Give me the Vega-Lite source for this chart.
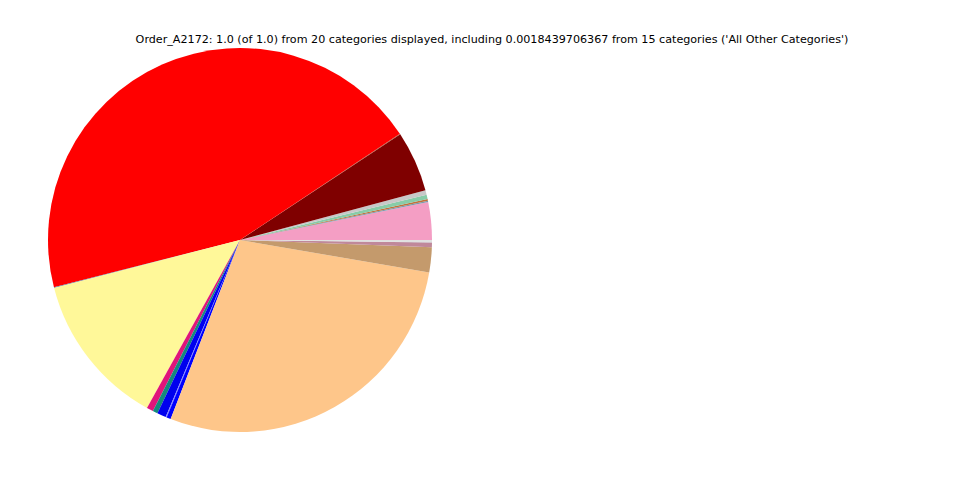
{
  "$schema": "https://vega.github.io/schema/vega-lite/v6.json",
  "width": 480,
  "height": 480,
  "padding": {"left": 0, "top": 0, "right": 480, "bottom": 0},
  "autosize": {"type": "none"},
  "background": "white",
  "title": {
    "text": "Order_A2172: 1.0 (of 1.0) from 20 categories displayed, including 0.0018439706367 from 15 categories ('All Other Categories')",
    "font": "DejaVu Sans",
    "fontSize": 11.15,
    "fontWeight": "normal",
    "color": "black",
    "anchor": "middle",
    "limit": 0,
    "dx": 252,
    "offset": -45
  },
  "data": {
    "values": [
      {"category": "Category 01", "value": 0.03167, "order": 1},
      {"category": "Category 02", "value": 0.00111, "order": 2},
      {"category": "Category 03", "value": 0.00139, "order": 3},
      {"category": "Category 04", "value": 0.00361, "order": 4},
      {"category": "Category 05", "value": 0.00389, "order": 5},
      {"category": "Category 06", "value": 0.05111, "order": 6},
      {"category": "Category 07", "value": 0.00056, "order": 7},
      {"category": "Category 08", "value": 0.44583, "order": 8},
      {"category": "Category 09", "value": 0.00056, "order": 9},
      {"category": "Category 10", "value": 0.12917, "order": 10},
      {"category": "Category 11", "value": 0.00556, "order": 11},
      {"category": "Category 12", "value": 0.00417, "order": 12},
      {"category": "Category 13", "value": 0.0075, "order": 13},
      {"category": "Category 14", "value": 0.00083, "order": 14},
      {"category": "Category 15", "value": 0.00361, "order": 15},
      {"category": "Category 16", "value": 0.28139, "order": 16},
      {"category": "Category 17", "value": 0.02111, "order": 17},
      {"category": "Category 18", "value": 0.00389, "order": 18},
      {"category": "Category 19", "value": 0.0003, "order": 19},
      {"category": "All Other Categories", "value": 0.00184, "order": 20}
    ]
  },
  "mark": {"type": "arc", "outerRadius": 192},
  "encoding": {
    "theta": {
      "field": "value",
      "type": "quantitative",
      "stack": true,
      "scale": {"range": [1.5707963, -4.7123890]}
    },
    "order": {"field": "order", "type": "quantitative"},
    "color": {
      "field": "category",
      "type": "nominal",
      "sort": null,
      "legend": null,
      "scale": {
        "domain": ["Category 01","Category 02","Category 03","Category 04","Category 05","Category 06","Category 07","Category 08","Category 09","Category 10","Category 11","Category 12","Category 13","Category 14","Category 15","Category 16","Category 17","Category 18","Category 19","All Other Categories"],
        "range": ["#f49ec4","#7a9ab0","#c0703a","#88cca8","#c8c8c8","#7f0000","#a0522d","#ff0000","#7080a0","#fff899","#e0157a","#148a7c","#0000ee","#8080ff","#0000ff","#fec68a","#c49a6c","#c0889a","#b0b0c0","#e0e0e0"]
      }
    }
  }
}
